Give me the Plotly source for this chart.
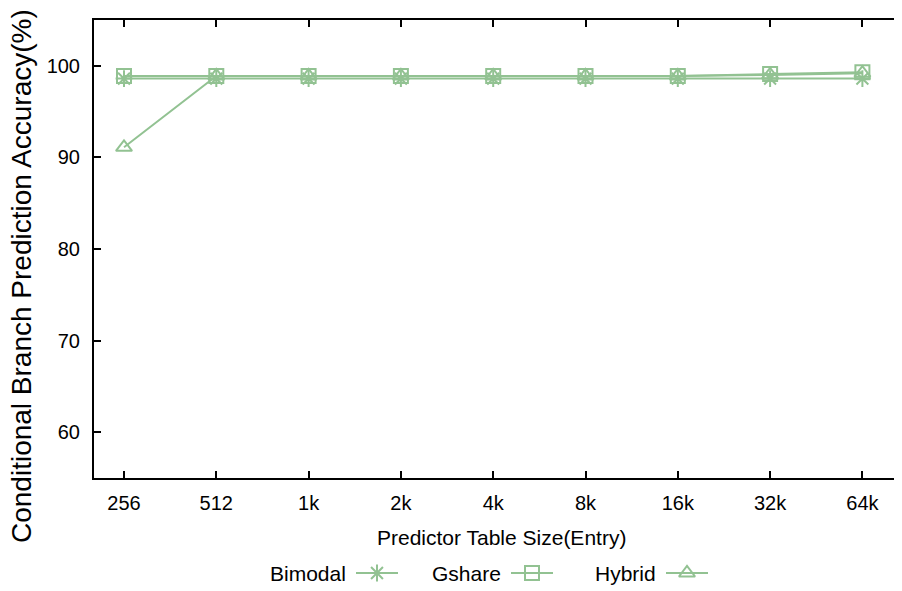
import plotly.graph_objects as go

categories = ["256", "512", "1k", "2k", "4k", "8k", "16k", "32k", "64k"]
bimodal = [98.6, 98.6, 98.6, 98.6, 98.6, 98.6, 98.6, 98.6, 98.6]
gshare = [98.9, 98.9, 98.9, 98.9, 98.9, 98.9, 98.9, 99.1, 99.3]
hybrid = [91.1, 98.9, 98.9, 98.9, 98.9, 98.9, 98.9, 99.0, 99.2]
series_names = ["Bimodal", "Gshare", "Hybrid"]
y_ticks = [60, 70, 80, 90, 100]

W, H = 902, 591
OFF = 8  # page body margin offset
# plot area in screen pixels
PL, PR, PT, PB = 94, 910, 20, 478

GREEN = "rgb(146,194,146)"
FONT = "Liberation Sans, Arial, sans-serif"
symbols = ["asterisk-open", "square-open", "triangle-up-open"]
xs = list(range(len(categories)))

fig = go.Figure()
for name, vals, sym in zip(series_names, [bimodal, gshare, hybrid], symbols):
    fig.add_trace(go.Scatter(
        x=xs, y=vals, mode="lines+markers", name=name, showlegend=False,
        line=dict(color=GREEN, width=2),
        marker=dict(symbol=sym, size=14, color=GREEN, line=dict(color=GREEN, width=2)),
        cliponaxis=False,
    ))

# custom legend (text left of sample, like the original), on a full-figure pixel overlay
leg_text_right = [348, 503, 658]
leg_y = 573
for name, sym, xr in zip(series_names, symbols, leg_text_right):
    x0 = xr + 8
    fig.add_trace(go.Scatter(
        x=[x0, x0 + 42], y=[leg_y, leg_y], mode="lines", xaxis="x2", yaxis="y2",
        line=dict(color=GREEN, width=2), showlegend=False, hoverinfo="skip"))
    fig.add_trace(go.Scatter(
        x=[x0 + 21], y=[leg_y], mode="markers", xaxis="x2", yaxis="y2",
        marker=dict(symbol=sym, size=14, color=GREEN, line=dict(color=GREEN, width=2)),
        showlegend=False, hoverinfo="skip"))
    fig.add_annotation(x=xr, y=leg_y, xref="x2", yref="y2", text=name, showarrow=False,
                       xanchor="right", yanchor="middle", font=dict(size=21, color="black", family=FONT))

fig.add_annotation(x=501, y=537, xref="x2", yref="y2", text="Predictor Table Size(Entry)",
                   showarrow=False, xanchor="center", yanchor="middle",
                   font=dict(size=21, color="black", family=FONT))
fig.add_annotation(x=21, y=276, xref="x2", yref="y2", text="Conditional Branch Prediction Accuracy(%)",
                   showarrow=False, textangle=-90, xanchor="center", yanchor="middle",
                   font=dict(size=28, color="black", family=FONT))

x_step = 92.3
x_first = 124
fig.update_layout(
    width=W, height=H,
    margin=dict(l=0, r=0, t=0, b=0, pad=0),
    paper_bgcolor="white", plot_bgcolor="rgba(0,0,0,0)",
    font=dict(family=FONT, size=20, color="black"),
    xaxis=dict(
        domain=[(PL - OFF) / W, 1], anchor="y",
        range=[(PL - x_first) / x_step, (PR - x_first) / x_step],
        tickmode="array", tickvals=xs, ticktext=categories,
        showgrid=False, zeroline=False, showline=True, linecolor="black", linewidth=2,
        ticks="inside", ticklen=7, tickwidth=1.5, tickcolor="black", mirror="ticks",
        tickfont=dict(size=20), ticklabelstandoff=6,
    ),
    yaxis=dict(
        domain=[1 - (PB - OFF) / H, 1 - (PT - OFF) / H], anchor="x",
        range=[55, 105], tickvals=y_ticks, showgrid=False, zeroline=False,
        showline=True, linecolor="black", linewidth=2, ticks="inside", ticklen=7,
        tickwidth=1.5, tickcolor="black", tickfont=dict(size=20), ticklabelstandoff=8,
    ),
    xaxis2=dict(domain=[0, 1], range=[OFF, W + OFF], visible=False, anchor="y2", fixedrange=True),
    yaxis2=dict(domain=[0, 1], range=[H + OFF, OFF], visible=False, anchor="x2", fixedrange=True),
    showlegend=False,
)
fig.write_html("out.html")
